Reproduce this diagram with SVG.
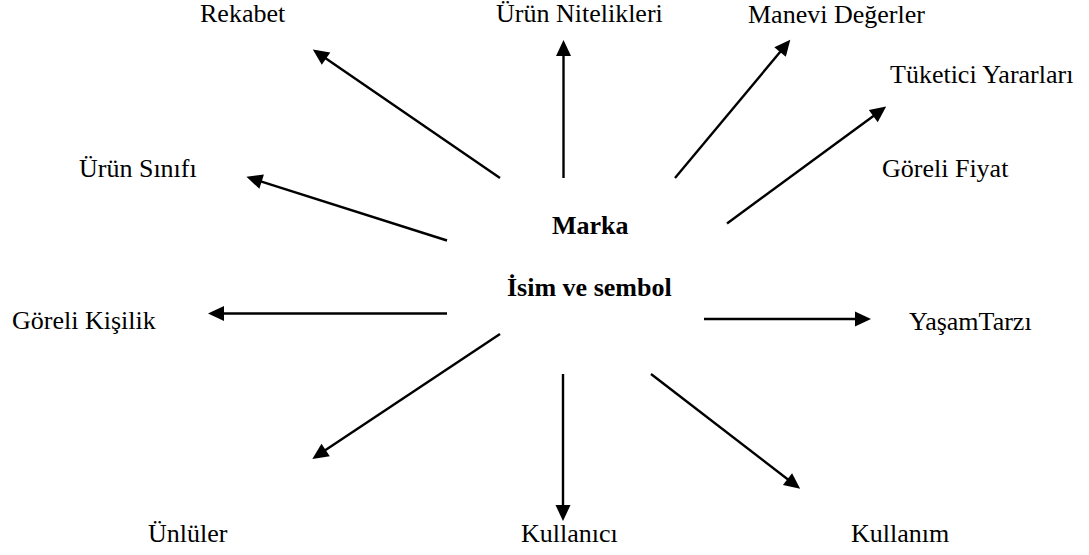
<svg xmlns="http://www.w3.org/2000/svg" width="1089" height="555" viewBox="0 0 1089 555">
  <style>
    .lbl { font-family: "Liberation Serif", "Times New Roman", serif; font-size: 26px; fill: #000; }
    .ctr { font-family: "Liberation Serif", "Times New Roman", serif; font-size: 26px; font-weight: bold; fill: #000; }
    .arr { stroke: #000; stroke-width: 2.4; fill: none; marker-end: url(#head); }
  </style>
  <defs>
    <marker id="head" markerUnits="userSpaceOnUse" markerWidth="17" markerHeight="16" refX="1" refY="7.5" orient="auto" overflow="visible">
      <path d="M0,0 L16,7.5 L0,15 z" fill="#000"/>
    </marker>
  </defs>
  <rect width="1089" height="555" fill="#fff"/>

  <!-- central concept -->
  <g id="marka">
    <text class="ctr" x="552" y="234">Marka</text>
    <text class="ctr" x="507" y="296">İsim ve sembol</text>
  </g>

  <!-- surrounding associations -->
  <g id="rekabet"><text class="lbl" x="200" y="22">Rekabet</text></g>
  <g id="urun-nitelikleri"><text class="lbl" x="496" y="22">Ürün Nitelikleri</text></g>
  <g id="manevi-degerler"><text class="lbl" x="748" y="23">Manevi Değerler</text></g>
  <g id="tuketici-yararlari"><text class="lbl" x="890" y="83">Tüketici Yararları</text></g>
  <g id="urun-sinifi"><text class="lbl" x="79" y="177">Ürün Sınıfı</text></g>
  <g id="goreli-fiyat"><text class="lbl" x="882" y="177">Göreli Fiyat</text></g>
  <g id="goreli-kisilik"><text class="lbl" x="12" y="329">Göreli Kişilik</text></g>
  <g id="yasam-tarzi"><text class="lbl" x="909" y="330">YaşamTarzı</text></g>
  <g id="unluler"><text class="lbl" x="148" y="542">Ünlüler</text></g>
  <g id="kullanici"><text class="lbl" x="521" y="542">Kullanıcı</text></g>
  <g id="kullanim"><text class="lbl" x="851" y="542">Kullanım</text></g>

  <!-- connectors: brand to each association -->
  <g id="connectors">
    <line class="arr" x1="500" y1="178" x2="325.2" y2="58.1"/>
    <line class="arr" x1="563.5" y1="178" x2="563.5" y2="55"/>
    <line class="arr" x1="675" y1="178" x2="780.7" y2="51.3"/>
    <line class="arr" x1="727" y1="223.5" x2="874.1" y2="115.5"/>
    <line class="arr" x1="447" y1="240.5" x2="260.7" y2="181.3"/>
    <line class="arr" x1="447" y1="313.5" x2="223" y2="313.5"/>
    <line class="arr" x1="704" y1="319" x2="856" y2="319"/>
    <line class="arr" x1="500" y1="334" x2="324.8" y2="450.6"/>
    <line class="arr" x1="563" y1="374" x2="563" y2="506"/>
    <line class="arr" x1="651" y1="374" x2="788.3" y2="479.7"/>
  </g>
</svg>
